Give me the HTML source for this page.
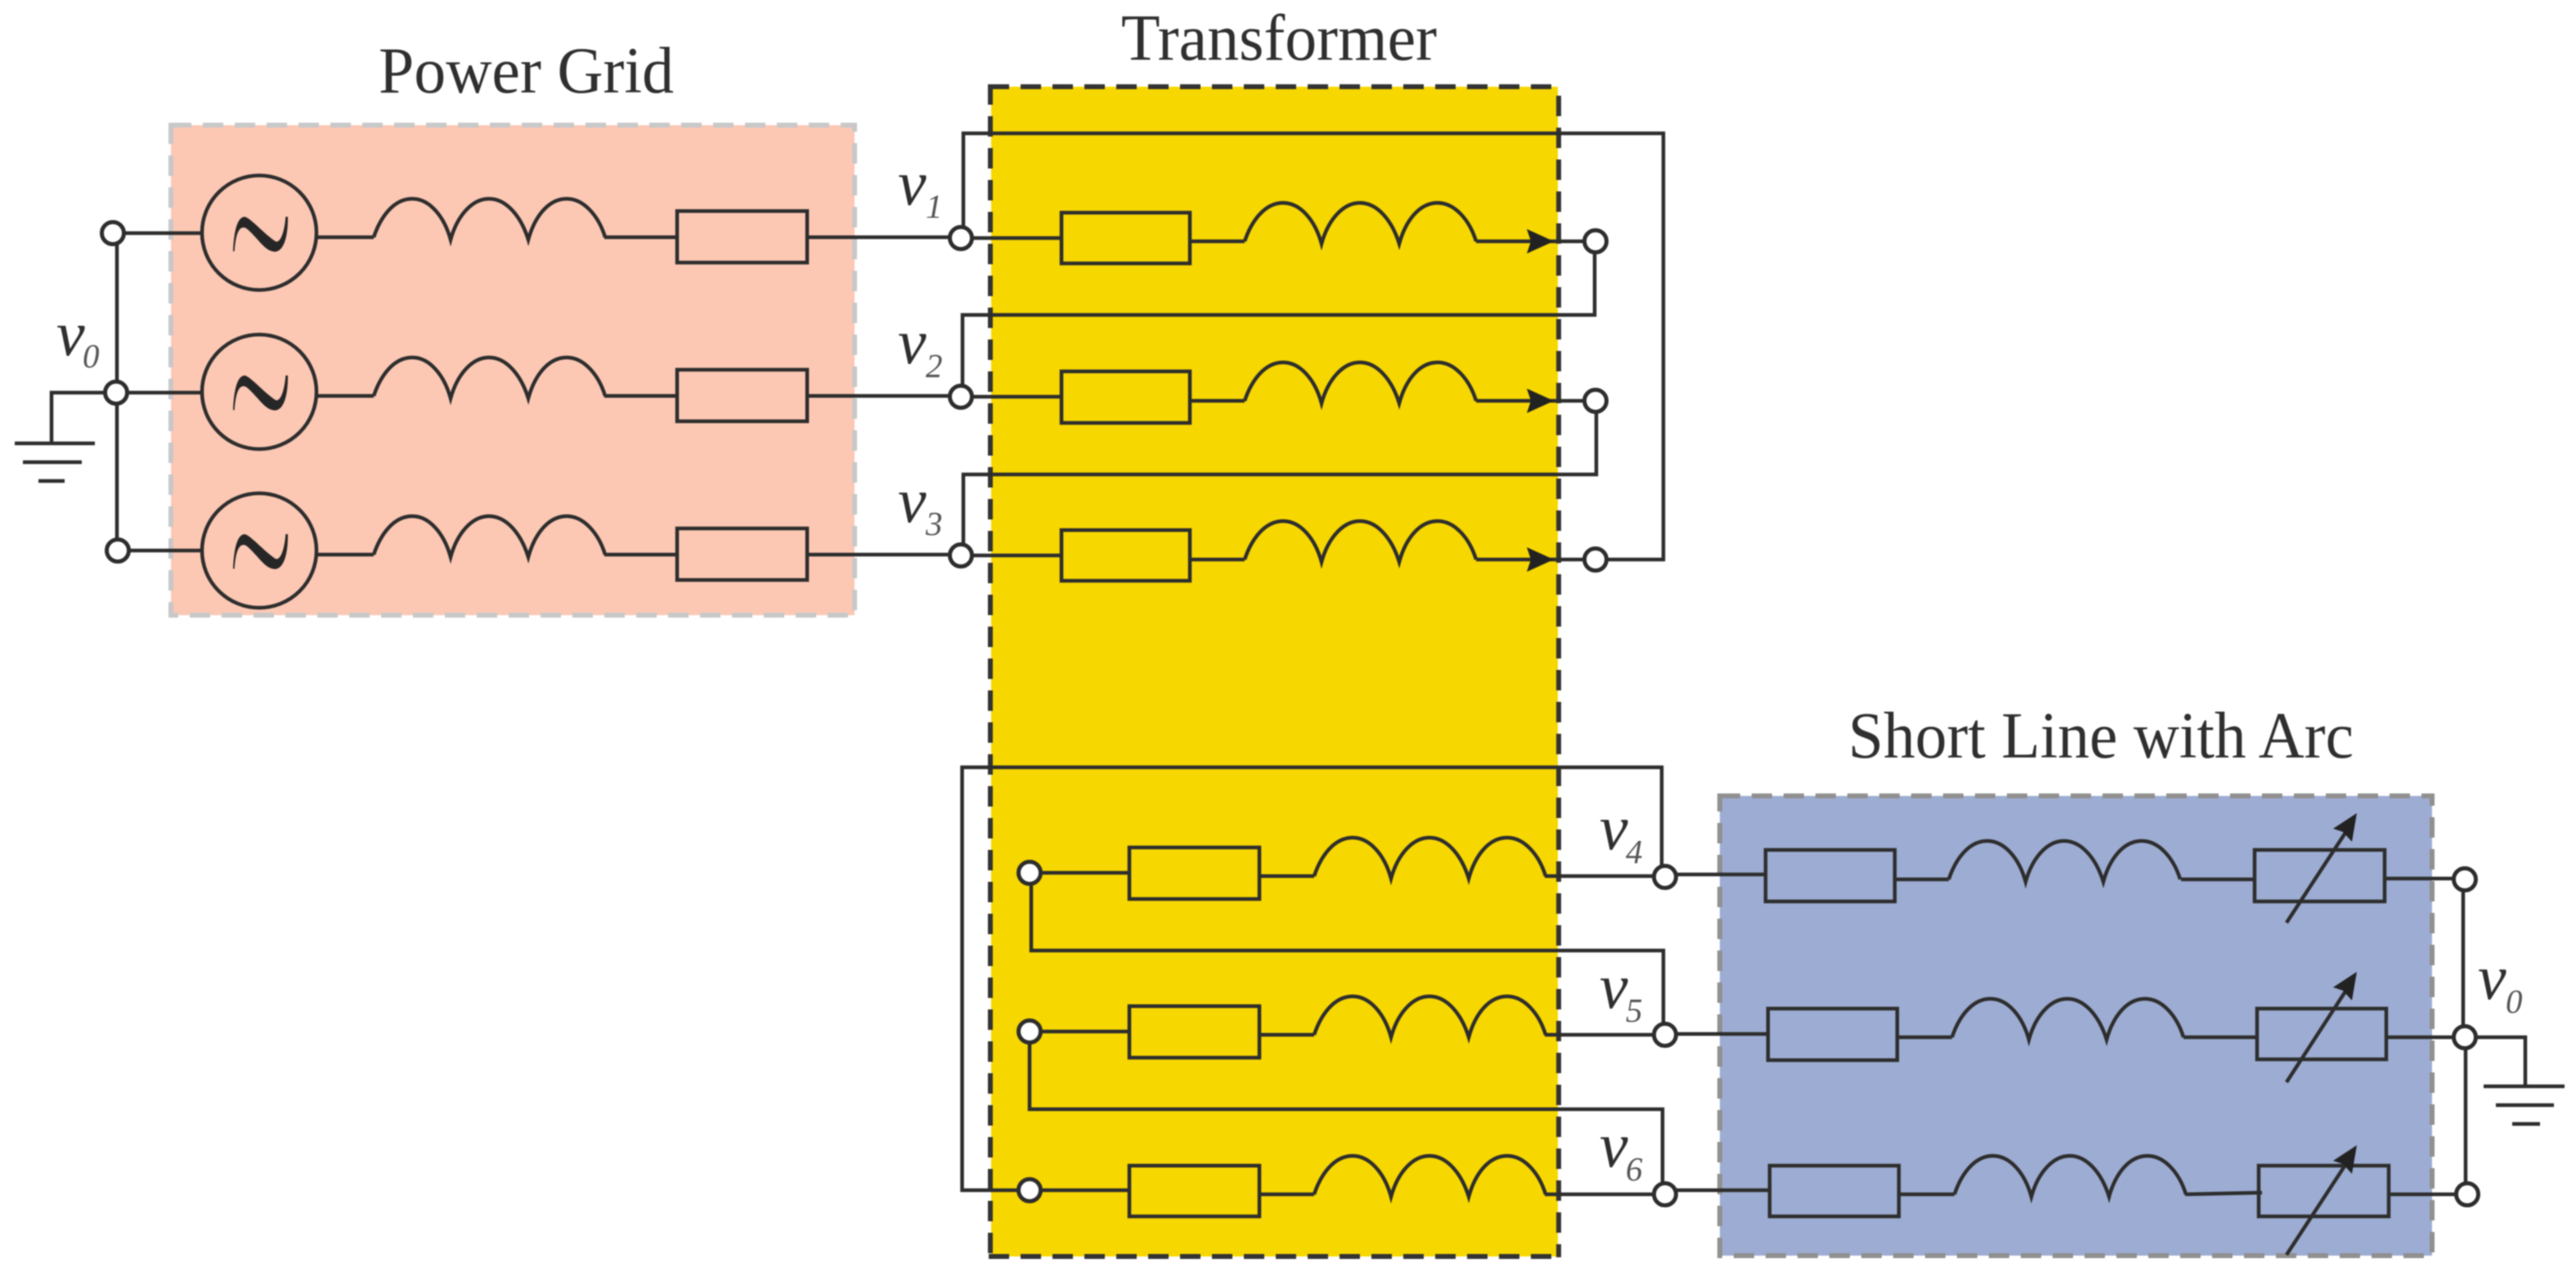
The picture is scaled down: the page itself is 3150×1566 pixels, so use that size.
<!DOCTYPE html>
<html><head><meta charset="utf-8"><style>
html,body{margin:0;padding:0;background:#fff}
svg{display:block;filter:blur(.7px)}
text{font-family:"Liberation Serif",serif;fill:#2f2f2f}
.t{font-size:80px}
.v{font-size:78px;font-style:italic}
.s{font-size:41px;font-style:italic;fill:#555}
.w{fill:none;stroke:#2d2d2d;stroke-width:4.5}
.n{fill:#fff;stroke:#2d2d2d;stroke-width:5}
</style></head><body>
<svg xmlns="http://www.w3.org/2000/svg" width="3150" height="1566" viewBox="0 0 3150 1566">
<defs>
<path id="L" class="w" d="M0 0C8 -24 24 -47 47 -47C68 -47 86 -26 94 3C102 -26 120 -47 141 -47C162 -47 180 -26 189 3C197 -26 214 -47 236 -47C257 -47 275 -26 283 0"/>
<path id="T" fill="#262626" d="M-32 22.300C-31 -1.700 -27 -20 -17.700 -20C-10.300 -18.300 5 0 19.700 10C24.700 12.300 30.300 3.300 32.300 -20L35 -20C35.300 5 29.700 22.700 19 22.700C6.300 22.300 -2 5 -16 -6C-24.300 -10 -28.700 0 -30.300 22.300Z"/>
</defs>
<rect width="3150" height="1566" fill="#fff"/>

<!-- fills -->
<rect x="209" y="153" width="836" height="599" fill="#fcc8b4"/>
<rect x="1212" y="106" width="693" height="1430" fill="#f7d700"/>
<rect x="2103" y="973" width="871" height="562" fill="#9dacd2"/>

<!-- titles -->
<text class="t" x="463" y="113" textLength="361" lengthAdjust="spacingAndGlyphs">Power Grid</text>
<text class="t" x="1371" y="73" textLength="386" lengthAdjust="spacingAndGlyphs">Transformer</text>
<text class="t" x="2260" y="926" textLength="618" lengthAdjust="spacingAndGlyphs">Short Line with Arc</text>

<!-- borders -->
<rect x="209" y="153" width="836" height="599" fill="none" stroke="#c8c8c8" stroke-width="6" stroke-dasharray="25 14"/>
<path fill="none" stroke="#333" stroke-width="6" stroke-dasharray="25 14" d="M1209 106H1906"/>
<path fill="none" stroke="#333" stroke-width="6" stroke-dasharray="25 14" d="M1211 103V1537"/>
<path fill="none" stroke="#333" stroke-width="6" stroke-dasharray="25 14" d="M1906 117V1537"/>
<path fill="none" stroke="#333" stroke-width="6" stroke-dasharray="25 14" d="M1209 1536H1906"/>
<rect x="2103" y="973" width="871" height="562" fill="none" stroke="#909090" stroke-width="6" stroke-dasharray="25 14"/>

<!-- power grid -->
<path class="w" d="M143 285V673M63 542V480H142M18 542H116M28 565H100M47 588H79"/>
<path class="w" d="M138 285H247M142 480H247M144 673H247"/>
<path class="w" d="M387 290H457M739 290H828M987 290H1175"/>
<path class="w" d="M387 484H457M739 484H828M987 484H1175"/>
<path class="w" d="M387 678H457M739 678H828M987 678H1175"/>
<circle class="w" cx="317" cy="284.500" r="70"/>
<circle class="w" cx="317" cy="479" r="70"/>
<circle class="w" cx="317" cy="673" r="70"/>
<use href="#T" x="317" y="285"/><use href="#T" x="317" y="479"/><use href="#T" x="317" y="673"/>
<use href="#L" x="457" y="290"/><use href="#L" x="457" y="484"/><use href="#L" x="457" y="678"/>
<rect class="w" x="828" y="258" width="159" height="63"/>
<rect class="w" x="828" y="452" width="159" height="63"/>
<rect class="w" x="828" y="646" width="159" height="63"/>
<ellipse class="n" cx="138" cy="285" rx="13.500" ry="13.500"/>
<ellipse class="n" cx="142" cy="480" rx="13.500" ry="13.500"/>
<ellipse class="n" cx="144" cy="673" rx="13.500" ry="13.500"/>

<!-- transformer top -->
<path class="w" d="M1178 291V163H2034V684H1951"/>
<path class="w" d="M1950 295V385H1177V485"/>
<path class="w" d="M1952 490V580H1178V679"/>
<path class="w" d="M1175 291H1298M1455 295H1522M1805 295H1951"/>
<path class="w" d="M1175 485H1298M1455 490H1522M1805 490H1951"/>
<path class="w" d="M1175 679H1298M1455 684H1522M1805 684H1951"/>
<rect class="w" x="1298" y="260" width="157" height="62"/>
<rect class="w" x="1298" y="454" width="157" height="63"/>
<rect class="w" x="1298" y="648" width="157" height="62"/>
<use href="#L" x="1522" y="295"/><use href="#L" x="1522" y="490"/><use href="#L" x="1522" y="684"/>
<path fill="#222" d="M1900 295L1867 280L1872 295L1867 310Z"/>
<path fill="#222" d="M1900 490L1867 475L1872 490L1867 505Z"/>
<path fill="#222" d="M1900 684L1867 669L1872 684L1867 699Z"/>
<ellipse class="n" cx="1175" cy="291" rx="13.500" ry="13.500"/>
<ellipse class="n" cx="1175" cy="485" rx="13.500" ry="13.500"/>
<ellipse class="n" cx="1175" cy="679" rx="13.500" ry="13.500"/>
<ellipse class="n" cx="1951" cy="295" rx="13.500" ry="13.500"/>
<ellipse class="n" cx="1951" cy="490" rx="13.500" ry="13.500"/>
<ellipse class="n" cx="1951" cy="684" rx="13.500" ry="13.500"/>

<!-- transformer bottom -->
<path class="w" d="M1259 1455H1176.500V938H2032V1072"/>
<path class="w" d="M1261 1067V1162H2034V1265"/>
<path class="w" d="M1259 1261V1356H2033V1460"/>
<path class="w" d="M1259 1067H1381M1540 1071H1607M1889 1071H2035"/>
<path class="w" d="M1259 1261H1381M1540 1265H1607M1889 1265H2035"/>
<path class="w" d="M1259 1455H1381M1540 1460H1607M1889 1460H2035"/>
<rect class="w" x="1381" y="1036" width="159" height="63"/>
<rect class="w" x="1381" y="1230" width="159" height="63"/>
<rect class="w" x="1381" y="1425" width="159" height="62"/>
<use href="#L" x="1607" y="1071"/><use href="#L" x="1607" y="1265"/><use href="#L" x="1607" y="1460"/>
<ellipse class="n" cx="1259" cy="1067" rx="13.500" ry="13.500"/>
<ellipse class="n" cx="1259" cy="1261" rx="13.500" ry="13.500"/>
<ellipse class="n" cx="1259" cy="1455" rx="13.500" ry="13.500"/>

<!-- short line -->
<path class="w" d="M2035 1069H2159M2317 1075H2383M2667 1075H2757M2916 1074H3013"/>
<path class="w" d="M2035 1264H2162M2320 1268H2387M2670 1268H2760M2918 1268H3013"/>
<path class="w" d="M2035 1455H2164M2322 1460H2390M2672 1460L2766 1458M2921 1460H3017"/>
<path class="w" d="M3012 1075V1268M3015 1268V1460M3013 1268H3088V1328M3037 1328H3136M3052 1351H3123M3072 1374H3106"/>
<rect class="w" x="2159" y="1039" width="158" height="63"/>
<rect class="w" x="2162" y="1233" width="158" height="63"/>
<rect class="w" x="2164" y="1425" width="158" height="62"/>
<use href="#L" x="2383" y="1075"/><use href="#L" x="2387" y="1268"/><use href="#L" x="2390" y="1460"/>
<rect class="w" x="2757" y="1039" width="159" height="63"/>
<rect class="w" x="2760" y="1233" width="158" height="62"/>
<rect class="w" x="2762" y="1425" width="159" height="62"/>
<path class="w" d="M2796 1128L2868 1018"/>
<path class="w" d="M2796 1323L2868 1212"/>
<path class="w" d="M2796 1534L2868 1424"/>
<path fill="#222" d="M2882 994L2853 1013L2865 1017L2876 1029Z"/>
<path fill="#222" d="M2882 1188L2853 1207L2865 1211L2876 1223Z"/>
<path fill="#222" d="M2882 1400L2853 1419L2865 1423L2876 1435Z"/>
<ellipse class="n" cx="2036" cy="1072" rx="13.500" ry="13.500"/>
<ellipse class="n" cx="2036" cy="1265" rx="13.500" ry="13.500"/>
<ellipse class="n" cx="2036" cy="1460" rx="13.500" ry="13.500"/>
<ellipse class="n" cx="3014" cy="1075" rx="13.500" ry="13.500"/>
<ellipse class="n" cx="3014" cy="1268" rx="13.500" ry="13.500"/>
<ellipse class="n" cx="3017" cy="1460" rx="13.500" ry="13.500"/>

<!-- labels -->
<text class="v" x="69" y="434">v</text><text class="s" x="101" y="449">0</text>
<text class="v" x="1098" y="250">v</text><text class="s" x="1132" y="266">1</text>
<text class="v" x="1098" y="444">v</text><text class="s" x="1132" y="461">2</text>
<text class="v" x="1098" y="638">v</text><text class="s" x="1132" y="654">3</text>
<text class="v" x="1956" y="1038">v</text><text class="s" x="1988" y="1055">4</text>
<text class="v" x="1956" y="1232">v</text><text class="s" x="1988" y="1249">5</text>
<text class="v" x="1956" y="1426">v</text><text class="s" x="1988" y="1443">6</text>
<text class="v" x="3030" y="1221">v</text><text class="s" x="3064" y="1238">0</text>
</svg>
</body></html>
